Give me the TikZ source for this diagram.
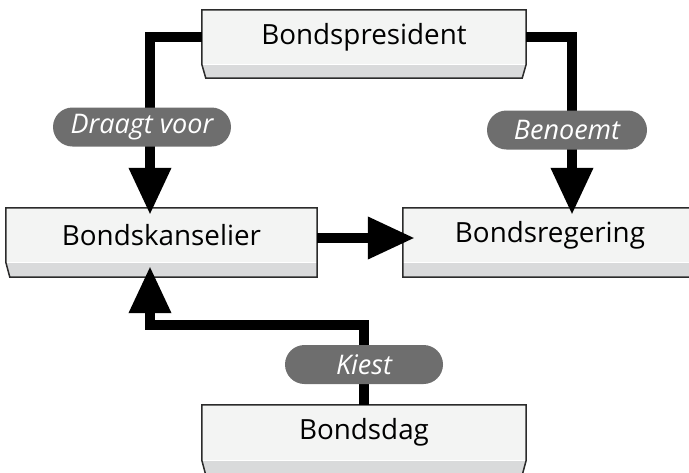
\documentclass[tikz,border=0pt]{standalone}
\usepackage{fontspec}
\setmainfont{Open Sans}
\usetikzlibrary{arrows.meta,calc,backgrounds}
\definecolor{boxtop}{HTML}{F3F4F3}
\definecolor{boxband}{HTML}{D9DADB}
\definecolor{boxline}{HTML}{2B2B2B}
\definecolor{pillgray}{HTML}{6E6E6E}
\tikzset{
 govnode/.style={minimum height=54pt, inner sep=0pt, font=\fontsize{27.8}{33}\selectfont, text=black},
 pilllabel/.style={fill=pillgray, rounded corners=19.5pt, minimum height=39pt, inner sep=0pt, text=white, font=\fontsize{27}{32}\selectfont\itshape},
 conn/.style={line width=10pt, -{Triangle[length=47pt,width=40pt]}},
}
\newcommand\govshape[4]{%
  \fill[boxtop] (#1.north west) rectangle (#1.south east);
  \fill[boxband] (#1.south west) -- (#1.south east) -- ++(-#3,#4) -- ($(#1.south west)+(#2,#4)$) -- cycle;
  \draw[white, line width=1pt] ($(#1.south west)+(0,0.6)$) -- ($(#1.south east)+(0,0.6)$);
  \draw[boxline, line width=1.5pt, line join=miter] (#1.north west) -- (#1.north east) -- (#1.south east) -- ++(-#3,#4) -- ($(#1.south west)+(#2,#4)$) -- (#1.south west) -- cycle;
}
\begin{document}
\begin{tikzpicture}[x=1pt,y=-1pt]
\useasboundingbox (0,0) rectangle (689,472);
\node[govnode, minimum width=324pt] (pres) at (364,37) {Bondspresident};
\node[govnode, minimum width=311pt] (kan) at (161.5,235) {Bondskanselier};
\node[govnode, minimum width=294pt] (reg) at (550,235) {Bondsregering};
\node[govnode, minimum width=324pt, minimum height=55pt] (dag) at (364,432.5) {Bondsdag};
\begin{scope}[on background layer]
\govshape{pres}{4}{4}{14}
\govshape{kan}{4}{0}{15}
\govshape{reg}{0}{4}{15}
\govshape{dag}{4}{4}{15}
\end{scope}
\coordinate (c1) at (150,37);
\coordinate (c2) at (572,37);
\coordinate (c3) at (150,325);
\draw[conn, shorten >=-7pt] (pres.west) -- (c1) -- (c1 |- kan.north);
\draw[conn, shorten >=-7pt] (pres.east) -- (c2) -- (c2 |- reg.north);
\draw[conn, shorten >=-12pt] ([yshift=-3pt]kan.east) -- ([yshift=-3pt]kan.east -| reg.west);
\draw[conn, shorten >=4pt] (dag.north) |- (c3) -- (c3 |- kan.south);
\node[pilllabel, minimum width=178pt] (l1) at (142,127) {Draagt voor};
\node[pilllabel, minimum width=160pt] (l2) at (567,130) {Benoemt};
\node[pilllabel, minimum width=158pt] (l3) at (364,364.5) {Kiest};
\end{tikzpicture}
\end{document}
